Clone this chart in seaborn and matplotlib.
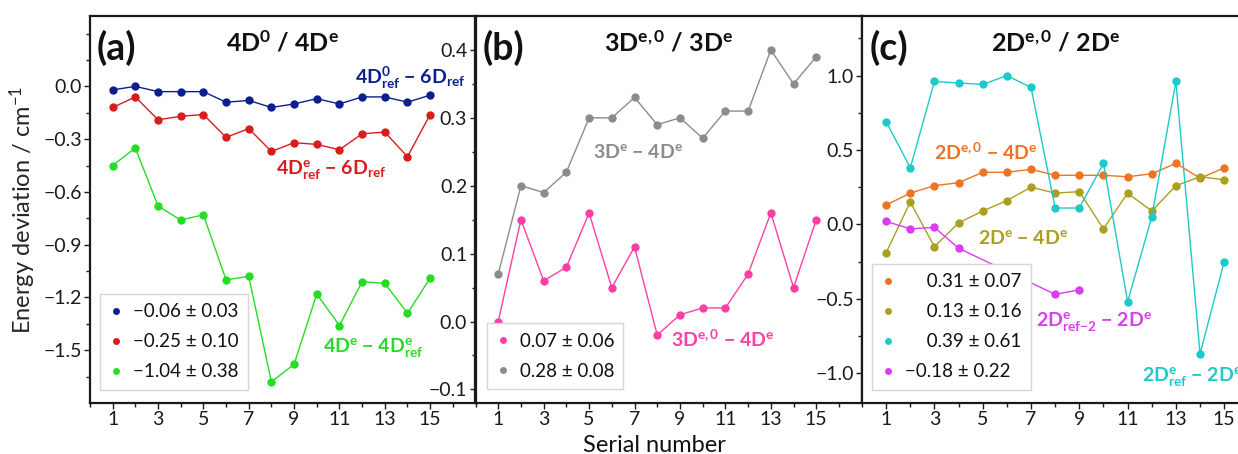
import matplotlib
matplotlib.use("Agg")
import matplotlib.pyplot as plt
from matplotlib.lines import Line2D
from matplotlib.ticker import FixedLocator, FuncFormatter
import pandas as pd
import seaborn as sns

# ---------------- data ----------------
serial = list(range(1, 16))

# (a) 4D^0 / 4D^e
a_4d0ref_6dref = [-0.02, 0.00, -0.03, -0.03, -0.03, -0.09, -0.08, -0.12,
                  -0.10, -0.07, -0.10, -0.06, -0.06, -0.09, -0.05]
a_4deref_6dref = [-0.12, -0.06, -0.19, -0.17, -0.16, -0.29, -0.24, -0.37,
                  -0.32, -0.33, -0.36, -0.27, -0.26, -0.40, -0.16]
a_4de_4deref = [-0.45, -0.35, -0.68, -0.76, -0.73, -1.10, -1.08, -1.68,
                -1.58, -1.18, -1.36, -1.11, -1.12, -1.29, -1.09]
a_legend = ["\u22120.06 \u00b1 0.03", "\u22120.25 \u00b1 0.10", "\u22121.04 \u00b1 0.38"]

# (b) 3D^{e,0} / 3D^e
b_3de0_4de = [0.00, 0.15, 0.06, 0.08, 0.16, 0.05, 0.11, -0.02,
              0.01, 0.02, 0.02, 0.07, 0.16, 0.05, 0.15]
b_3de_4de = [0.07, 0.20, 0.19, 0.22, 0.30, 0.30, 0.33, 0.29,
             0.30, 0.27, 0.31, 0.31, 0.40, 0.35, 0.39]
b_legend = ["0.07 \u00b1 0.06", "0.28 \u00b1 0.08"]

# (c) 2D^{e,0} / 2D^e
c_2de0_4de = [0.13, 0.21, 0.26, 0.28, 0.35, 0.35, 0.37, 0.33,
              0.33, 0.33, 0.32, 0.34, 0.41, 0.31, 0.38]
c_2de_4de = [-0.19, 0.15, -0.15, 0.01, 0.09, 0.16, 0.25, 0.21,
             0.22, -0.03, 0.21, 0.09, 0.26, 0.32, 0.30]
c_2deref_2de = [0.69, 0.38, 0.96, 0.95, 0.94, 1.00, 0.92, 0.11,
                0.11, 0.41, -0.52, 0.05, 0.96, -0.87, -0.25]
c_serial_ref2 = [1, 2, 3, 4, 8, 9]
c_2deref2_2de = [0.02, -0.03, -0.02, -0.16, -0.47, -0.44]
c_legend = ["\u2007\u20070.31 \u00b1 0.07", "\u2007\u20070.13 \u00b1 0.16",
            "\u2007\u20070.39 \u00b1 0.61", "\u22120.18 \u00b1 0.22"]

BLUE, RED, GREEN = "#0c1f8e", "#d91c1c", "#24dd24"
PINK, GRAY = "#ff3fa4", "#8c8c8c"
ORANGE, OLIVE, CYAN, MAGENTA = "#ee7422", "#aaa01e", "#1dc9c9", "#d93df2"

# ---------------- style ----------------
sns.set_theme(style="ticks")
plt.rcParams.update({
    "font.family": ["Lato", "DejaVu Sans"],
    "mathtext.fontset": "custom",
    "mathtext.rm": "Lato",
    "mathtext.it": "Lato:italic",
    "mathtext.bf": "Lato:bold",
    "mathtext.default": "regular",
    "axes.unicode_minus": True,
    "axes.edgecolor": "#1a1a1a",
    "axes.linewidth": 1.6,
    "xtick.color": "#1a1a1a",
    "ytick.color": "#1a1a1a",
    "text.color": "#111111",
})

W, H = 1238, 454
fig = plt.figure(figsize=(W / 100, H / 100), dpi=100)


def px_axes(left, right, top=16, bottom=403):
    return fig.add_axes([left / W, (H - bottom) / H, (right - left) / W, (bottom - top) / H])


ax_a = px_axes(90, 475.5)
ax_b = px_axes(475.5, 861.7)
ax_c = px_axes(862, 1272.5)


def fmt(v, _):
    s = f"{v:.1f}"
    if s == "-0.0":
        s = "0.0"
    return s.replace("-", "\u2212")


def style_axes(ax, ylim, majors, minors):
    ax.set_xlim(0, 17)
    ax.set_ylim(*ylim)
    ax.xaxis.set_major_locator(FixedLocator(range(1, 16, 2)))
    ax.xaxis.set_minor_locator(FixedLocator(range(0, 17, 2)))
    ax.yaxis.set_major_locator(FixedLocator(majors))
    ax.yaxis.set_minor_locator(FixedLocator(minors))
    ax.yaxis.set_major_formatter(FuncFormatter(fmt))
    ax.tick_params(which="major", direction="out", length=4, width=1.0,
                   labelsize=14, pad=2)
    ax.tick_params(which="minor", direction="out", length=3, width=1.0)
    ax.set_xlabel("")
    ax.set_ylabel("")
    for sp in ax.spines.values():
        sp.set_visible(True)


def series(ax, x, y, color, ms=6):
    df = pd.DataFrame({"serial": x, "dev": y})
    sns.lineplot(data=df, x="serial", y="dev", ax=ax, color=color, lw=1.0,
                 marker="o", markersize=ms, markeredgewidth=0, legend=False)


def add_legend(ax, colors, labels, anchor):
    handles = [Line2D([], [], ls="none", marker="o", ms=5, mew=0, color=c)
               for c in colors]
    leg = ax.legend(handles, labels, loc="lower left", bbox_to_anchor=anchor,
                    fontsize=13.5, frameon=True, fancybox=False,
                    edgecolor="#d6d6d6", framealpha=1, handlelength=0.7,
                    handletextpad=0.55, borderpad=0.5, labelspacing=0.7,
                    borderaxespad=0)
    leg.get_frame().set_linewidth(1.0)


def note(ax, x, y, s, color, ha="center"):
    ax.text(x, y, s, color=color, fontsize=14, fontweight="bold",
            ha=ha, va="center")


# ---------------- panel (a) ----------------
series(ax_a, serial, a_4d0ref_6dref, BLUE)
series(ax_a, serial, a_4deref_6dref, RED)
series(ax_a, serial, a_4de_4deref, GREEN)
style_axes(ax_a, (-1.8, 0.4), [-1.5, -1.2, -0.9, -0.6, -0.3, 0.0],
           [-1.65, -1.35, -1.05, -0.75, -0.45, -0.15, 0.15, 0.3])
add_legend(ax_a, [BLUE, RED, GREEN], a_legend, (0.026, 0.034))
note(ax_a, 14.1, 0.05, "4D$^{0}_{ref}$ \u2212 6D$_{ref}$", BLUE)
note(ax_a, 10.65, -0.48, "4D$^{e}_{ref}$ \u2212 6D$_{ref}$", RED)
note(ax_a, 12.5, -1.49, "4D$^{e}$ \u2212 4D$^{e}_{ref}$", GREEN)
ax_a.set_ylabel("Energy deviation / cm$^{\u22121}$", fontsize=17)
ax_a.yaxis.set_label_coords(-0.135, 0.5)

# ---------------- panel (b) ----------------
series(ax_b, serial, b_3de0_4de, PINK)
series(ax_b, serial, b_3de_4de, GRAY)
style_axes(ax_b, (-0.12, 0.45), [-0.1, 0.0, 0.1, 0.2, 0.3, 0.4],
           [-0.05, 0.05, 0.15, 0.25, 0.35])
add_legend(ax_b, [PINK, GRAY], b_legend, (0.029, 0.036))
note(ax_b, 7.15, 0.249, "3D$^{e}$ \u2212 4D$^{e}$", GRAY)
note(ax_b, 10.9, -0.026, "3D$^{e,0}$ \u2212 4D$^{e}$", PINK)

# ---------------- panel (c) ----------------
series(ax_c, serial, c_2de0_4de, ORANGE)
series(ax_c, serial, c_2de_4de, OLIVE)
series(ax_c, serial, c_2deref_2de, CYAN)
series(ax_c, c_serial_ref2, c_2deref2_2de, MAGENTA)
style_axes(ax_c, (-1.2, 1.4), [-1.0, -0.5, 0.0, 0.5, 1.0],
           [-0.75, -0.25, 0.25, 0.75, 1.25])
add_legend(ax_c, [ORANGE, OLIVE, CYAN, MAGENTA], c_legend, (0.025, 0.034))
note(ax_c, 5.12, 0.483, "2D$^{e,0}$ \u2212 4D$^{e}$", ORANGE)
note(ax_c, 6.67, -0.089, "2D$^{e}$ \u2212 4D$^{e}$", OLIVE)
note(ax_c, 9.6, -0.66, "2D$^{e}_{ref{-}2}$ \u2212 2D$^{e}$", MAGENTA)
note(ax_c, 11.58, -1.03, "2D$^{e}_{ref}$ \u2212 2D$^{e}$", CYAN, ha="left")

# ---------------- panel letters and titles ----------------
for ax, letter, title, tx in [
    (ax_a, "(a)", "4D$^{0}$ / 4D$^{e}$", 8.5),
    (ax_b, "(b)", "3D$^{e,0}$ / 3D$^{e}$", 8.5),
    (ax_c, "(c)", "2D$^{e,0}$ / 2D$^{e}$", 8.0),
]:
    tr = ax.get_xaxis_transform()
    ax.text(0.3, 0.918, letter, transform=tr, fontsize=27,
            fontweight="bold", ha="left", va="center", color="#111111")
    ax.text(tx, 0.931, title, transform=tr, fontsize=18,
            fontweight="bold", ha="center", va="center", color="#111111")

fig.text(654 / W, 2 / H, "Serial number", fontsize=17, ha="center",
         va="baseline")

fig.savefig("out.png", dpi=100)
